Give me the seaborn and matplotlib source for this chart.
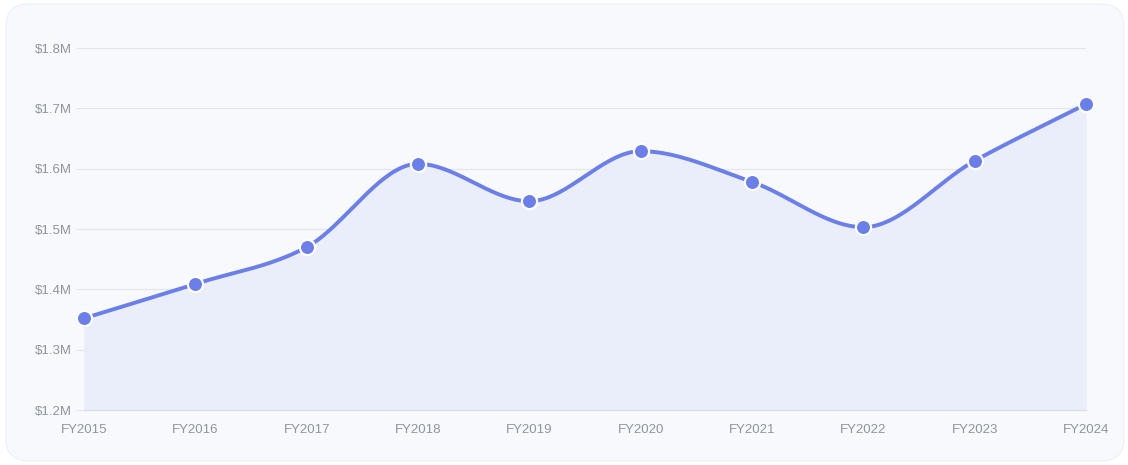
import numpy as np
import pandas as pd
import matplotlib
matplotlib.use("Agg")
import matplotlib.pyplot as plt
from matplotlib.patches import FancyBboxPatch
import seaborn as sns

years = ["FY2015", "FY2016", "FY2017", "FY2018", "FY2019",
         "FY2020", "FY2021", "FY2022", "FY2023", "FY2024"]
values = [1.352, 1.409, 1.470, 1.608, 1.546,
          1.629, 1.578, 1.503, 1.613, 1.707]  # $M
y_ticks = [1.2, 1.3, 1.4, 1.5, 1.6, 1.7, 1.8]

LINE = "#6a7fe9"
FILL = "#eaedfa"
TEXT = "#8f959c"
GRID = "#e4e6eb"


def monotone_curve(y, n=40):
    """Monotone cubic (Fritsch-Carlson) path through the points, for drawing only."""
    y = np.asarray(y, float)
    x = np.arange(len(y), dtype=float)
    d = np.diff(y)
    m = np.zeros_like(y)
    m[0], m[-1] = d[0], d[-1]
    for i in range(1, len(y) - 1):
        m[i] = 0 if np.sign(d[i - 1]) != np.sign(d[i]) else (d[i - 1] + d[i]) / 2
    for i in range(len(d)):
        if d[i] == 0:
            m[i] = m[i + 1] = 0
            continue
        a, b = m[i] / d[i], m[i + 1] / d[i]
        s = a * a + b * b
        if s > 9:
            t = 3 / np.sqrt(s)
            m[i], m[i + 1] = t * a * d[i], t * b * d[i]
    xs, ys = [], []
    for i in range(len(d)):
        t = np.linspace(0, 1, n, endpoint=(i == len(d) - 1))
        h00 = 2 * t**3 - 3 * t**2 + 1
        h10 = t**3 - 2 * t**2 + t
        h01 = -2 * t**3 + 3 * t**2
        h11 = t**3 - t**2
        xs.append(x[i] + t)
        ys.append(h00 * y[i] + h10 * m[i] + h01 * y[i + 1] + h11 * m[i + 1])
    return np.concatenate(xs), np.concatenate(ys)


sns.set_style("white")
plt.rcParams["font.family"] = ["Liberation Sans", "DejaVu Sans"]

fig = plt.figure(figsize=(11.28, 4.65), dpi=100, facecolor="white")

# card background
card = FancyBboxPatch((6 / 1128, 4 / 465), 1118 / 1128, 457 / 465,
                      boxstyle="round,pad=0,rounding_size=0.02",
                      transform=fig.transFigure, facecolor="#f8f9fc",
                      edgecolor="#eef0f4", linewidth=0.8,
                      mutation_aspect=1128 / 465, zorder=-10)
fig.patches.append(card)

ax = fig.add_axes([84 / 1128, 1 - 410 / 465, (1086 - 84) / 1128, (410 - 48) / 465])
ax.set_zorder(5)
ax.set_facecolor("none")

xs, ys = monotone_curve(values)
curve = pd.DataFrame({"x": xs, "y": ys})
pts = pd.DataFrame({"x": np.arange(len(years)), "y": values})

ax.fill_between(curve["x"], curve["y"], y_ticks[0], color=FILL, lw=0, zorder=1)
sns.lineplot(data=curve, x="x", y="y", ax=ax, color=LINE, lw=2.8,
             sort=False, zorder=3)
sns.scatterplot(data=pts, x="x", y="y", ax=ax, s=120, color=LINE,
                edgecolor="white", linewidth=1.6, zorder=4, clip_on=False)

ax.set_xlim(0, len(years) - 1)
ax.set_ylim(y_ticks[0], y_ticks[-1])
ax.set_xticks(range(len(years)))
ax.set_xticklabels(years)
ax.set_yticks(y_ticks)
ax.set_yticklabels([f"${v:.1f}M" for v in y_ticks])
ax.set_xlabel("")
ax.set_ylabel("")

ax.grid(axis="y", color=GRID, lw=0.9, zorder=0)
ax.grid(axis="x", visible=False)
for side in ["top", "right", "left"]:
    ax.spines[side].set_visible(False)
ax.spines["bottom"].set_color("#dcdfe5")
ax.spines["bottom"].set_linewidth(1.0)

ax.tick_params(axis="y", length=6, width=0.9, color=GRID, pad=3,
               labelsize=9.5, labelcolor=TEXT, left=True)
ax.tick_params(axis="x", length=0, pad=10, labelsize=9.5, labelcolor=TEXT)

fig.savefig("out.png", dpi=100, facecolor="white")
